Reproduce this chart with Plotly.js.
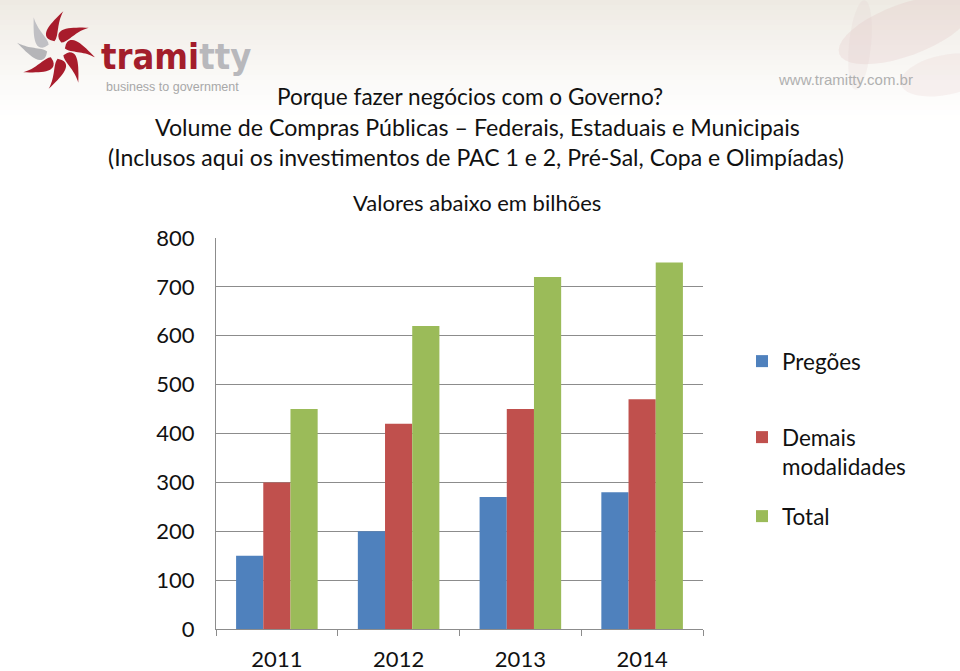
<!DOCTYPE html>
<html><head><meta charset="utf-8">
<script src="https://cdn.plot.ly/plotly-3.0.1.min.js"></script>
<style>html,body{margin:0;padding:0;background:#fff}#chart{width:960px;height:671px}</style>
</head><body><div id="chart"></div>
<script>
const years = ['2011', '2012', '2013', '2014'];
const pregoes = [150, 200, 270, 280];
const demais = [300, 420, 450, 470];
const total = [450, 620, 720, 750];
const seriesNames = ['Pregões', 'Demais<br>modalidades', 'Total'];
const seriesColors = ['#4F81BD', '#C0504D', '#9BBB59'];
const yTicks = [0, 100, 200, 300, 400, 500, 600, 700, 800];

const L = 216, R = 703, T = 238, B = 629;
const px = x => (x - L) / (R - L);
const py = y => (B - y) / (B - T);
const FONT = 'Lato, "Open Sans", sans-serif';

const traces = [pregoes, demais, total].map((vals, i) => ({
  type: 'bar', x: years, y: vals, name: seriesNames[i],
  marker: {color: seriesColors[i], line: {width: 0}},
  legend: i === 0 ? 'legend' : 'legend' + (i + 1),
  hoverinfo: 'x+y+name'
}));

// header background gradient (decoration)
const shapes = [];
for (let k = 0; k < 24; k++) {
  const y0 = k * 5, y1 = y0 + 5;
  const a = 0.5 * Math.pow(1 - k / 24, 1.2);
  shapes.push({type: 'rect', xref: 'paper', yref: 'paper', layer: 'below',
    x0: px(0), x1: px(960), y0: py(y1), y1: py(y0),
    fillcolor: 'rgba(222,214,200,' + a.toFixed(3) + ')', line: {width: 0}});
}
function pathFromPx(pts) {
  return 'M' + pts.map(p => px(p[0]).toFixed(4) + ',' + py(p[1]).toFixed(4)).join(' L') + ' Z';
}
function ellipsePts(cx, cy, rx, ry, rot) {
  const pts = [];
  for (let t = 0; t < 40; t++) {
    const a = t / 40 * 2 * Math.PI;
    const x = rx * Math.cos(a), y = ry * Math.sin(a);
    pts.push([cx + x * Math.cos(rot) - y * Math.sin(rot), cy + x * Math.sin(rot) + y * Math.cos(rot)]);
  }
  return pts;
}
shapes.push({type: 'path', xref: 'paper', yref: 'paper', layer: 'below',
  path: pathFromPx(ellipsePts(905, 30, 70, 26, -0.35)), fillcolor: 'rgba(215,170,170,0.18)', line: {width: 0}});
shapes.push({type: 'path', xref: 'paper', yref: 'paper', layer: 'below',
  path: pathFromPx(ellipsePts(945, 75, 45, 20, -0.2)), fillcolor: 'rgba(220,180,180,0.14)', line: {width: 0}});
shapes.push({type: 'path', xref: 'paper', yref: 'paper', layer: 'below',
  path: pathFromPx(ellipsePts(860, 45, 11, 45, 0.1)), fillcolor: 'rgba(220,200,200,0.18)', line: {width: 0}});

// logo swirl petals (decoration)
function petal(cx, cy, ang, rIn, rOut, w, swirl) {
  const rot = (x, y) => [cx + x * Math.cos(ang) - y * Math.sin(ang), cy + x * Math.sin(ang) + y * Math.cos(ang)];
  const pts = [];
  const n = 16;
  for (let i = 0; i <= n; i++) {
    const t = i / n;
    const r = rIn + (rOut - rIn) * t;
    const off = swirl * t * t;
    const hw = w * Math.sin(Math.PI * Math.pow(t, 0.7)) * (1 - 0.3 * t);
    pts.push(rot(r, off - hw));
  }
  for (let i = n; i >= 0; i--) {
    const t = i / n;
    const r = rIn + (rOut - rIn) * t;
    const off = swirl * t * t;
    const hw = w * Math.sin(Math.PI * Math.pow(t, 0.7)) * (1 - 0.3 * t);
    pts.push(rot(r, off + hw * 0.4));
  }
  return pts;
}
const lcx = 56, lcy = 50;
const petalAngles = [-100, -55, -10, 35, 80, 125, 170, 215];
const petalColors = ['#a81c2c', '#a81c2c', '#a81c2c', '#a81c2c', '#a81c2c', '#a81c2c', '#b5b5b8', '#c0c0c4'];
petalAngles.forEach((d, i) => {
  shapes.push({type: 'path', xref: 'paper', yref: 'paper',
    path: pathFromPx(petal(lcx, lcy, d * Math.PI / 180, 9, 37, 9.5, 14)),
    fillcolor: petalColors[i], line: {width: 0}});
});

const annotations = [
  {text: '<b><span style="color:#a31d2b">trami</span><span style="color:#b8b8bc">tty</span></b>',
   x: px(99), y: py(56), xanchor: 'left', yanchor: 'middle',
   font: {family: '"DejaVu Sans Condensed", "Liberation Sans Narrow", sans-serif', size: 36, weight: 'bold'}},
  {text: 'business to government', x: px(104), y: py(87), xanchor: 'left', yanchor: 'middle',
   font: {family: '"Liberation Sans", Arial, sans-serif', size: 12.5, color: '#a8a8a8'}},
  {text: 'www.tramitty.com.br', x: px(776), y: py(79), xanchor: 'left', yanchor: 'middle',
   font: {family: '"Liberation Sans", Arial, sans-serif', size: 15, color: '#b0b0b0'}},
  {text: 'Porque fazer negócios com o Governo?', x: px(470), y: py(97), xanchor: 'center', yanchor: 'middle',
   font: {family: FONT, size: 22.6, color: '#111'}},
  {text: 'Volume de Compras Públicas – Federais, Estaduais e Municipais', x: px(477), y: py(127), xanchor: 'center', yanchor: 'middle',
   font: {family: FONT, size: 23.2, color: '#111'}},
  {text: '(Inclusos aqui os investimentos de PAC 1 e 2, Pré-Sal, Copa e Olimpíadas)', x: px(476), y: py(157), xanchor: 'center', yanchor: 'middle',
   font: {family: FONT, size: 23, color: '#111'}},
  {text: 'Valores abaixo em bilhões', x: px(477), y: py(202), xanchor: 'center', yanchor: 'middle',
   font: {family: FONT, size: 22, color: '#111'}}
].map(a => Object.assign({xref: 'paper', yref: 'paper', showarrow: false}, a));

const legendBase = {xref: 'paper', yref: 'paper', bgcolor: 'rgba(0,0,0,0)', borderwidth: 0,
  font: {family: FONT, size: 22.5, color: '#111'}, valign: 'top', xanchor: 'left', yanchor: 'top'};

const layout = {
  width: 960, height: 671,
  margin: {l: L, r: 960 - R, t: T, b: 671 - B},
  paper_bgcolor: '#ffffff', plot_bgcolor: '#ffffff',
  barmode: 'group', bargap: 0.33, bargroupgap: 0,
  showlegend: true,
  legend: Object.assign({}, legendBase, {x: px(742), y: py(340)}),
  legend2: Object.assign({}, legendBase, {x: px(742), y: py(416)}),
  legend3: Object.assign({}, legendBase, {x: px(742), y: py(495)}),
  xaxis: {type: 'category', showline: true, linecolor: '#8c8c8c', linewidth: 1,
    ticks: 'outside', tickson: 'boundaries', ticklen: 6, tickcolor: '#8c8c8c',
    showgrid: false, zeroline: false, ticklabelstandoff: 11,
    tickfont: {family: FONT, size: 22, color: '#111'}, fixedrange: true},
  yaxis: {range: [0, 800], tickvals: yTicks, ticktext: yTicks.map(String),
    showline: true, linecolor: '#8c8c8c', linewidth: 1,
    showgrid: true, gridcolor: '#8c8c8c', gridwidth: 1, zeroline: false,
    ticks: '', ticklabelstandoff: 16,
    tickfont: {family: FONT, size: 22, color: '#111'}, fixedrange: true},
  shapes: shapes,
  annotations: annotations
};
Plotly.newPlot('chart', traces, layout, {displayModeBar: false, responsive: false});
</script></body></html>
